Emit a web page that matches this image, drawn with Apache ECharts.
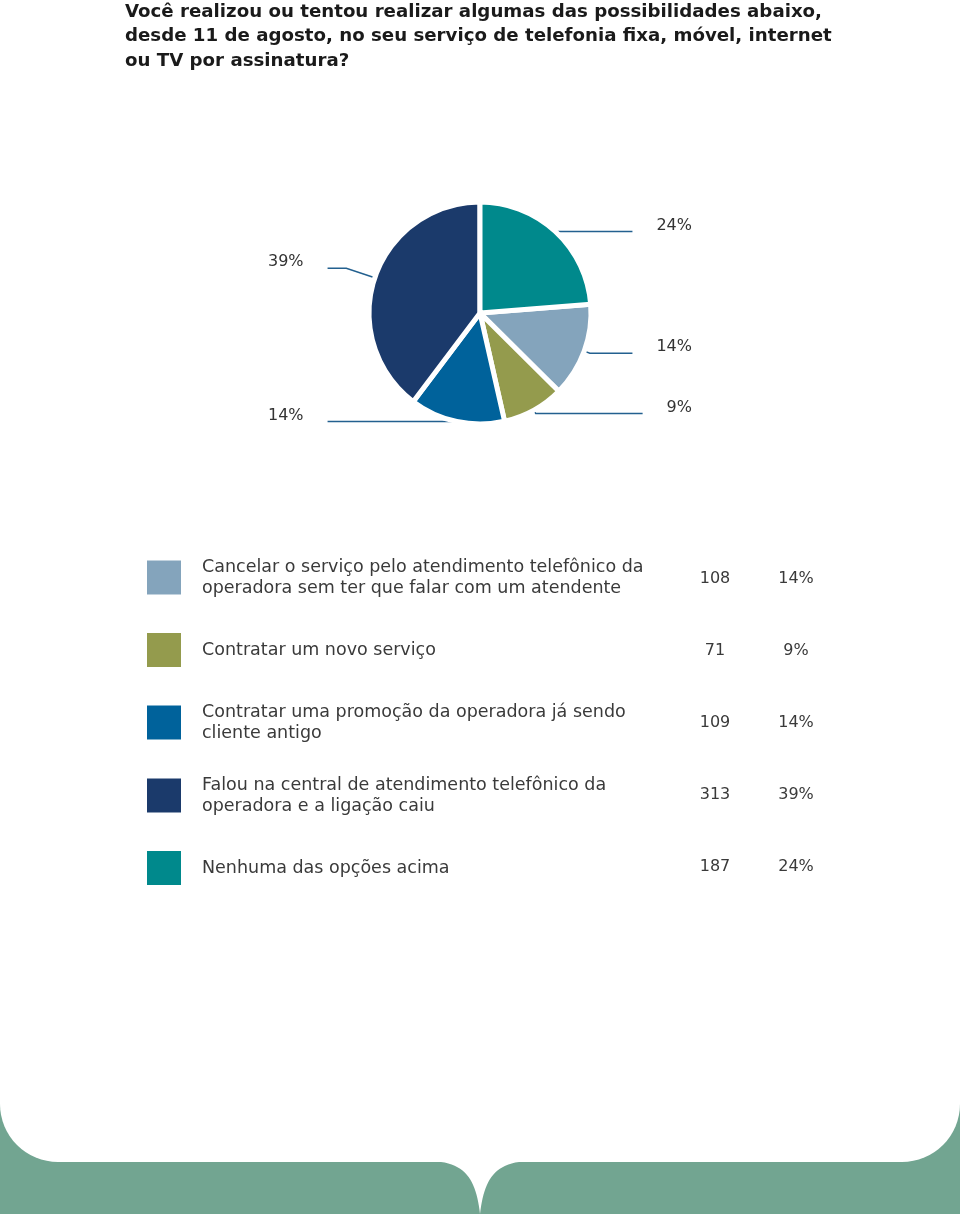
<!DOCTYPE html>
<html>
<head>
<meta charset="utf-8">
<script src="https://cdn.jsdelivr.net/npm/echarts@6/dist/echarts.min.js"></script>
<style>
html,body{margin:0;padding:0;background:#fff;}
#chart{width:960px;height:1214px;}
</style>
</head>
<body>
<div id="chart"></div>
<script>
// ---- data ----
var titleLines = [
  'Você realizou ou tentou realizar algumas das possibilidades abaixo,',
  'desde 11 de agosto, no seu serviço de telefonia fixa, móvel, internet',
  'ou TV por assinatura?'
];
var categories = [
  'Cancelar o serviço pelo atendimento telefônico da\noperadora sem ter que falar com um atendente',
  'Contratar um novo serviço',
  'Contratar uma promoção da operadora já sendo\ncliente antigo',
  'Falou na central de atendimento telefônico da\noperadora e a ligação caiu',
  'Nenhuma das opções acima'
];
var counts = [108, 71, 109, 313, 187];
var percents = [14, 9, 14, 39, 24];

// ---- styles (kept apart from the data) ----
var colors = ['#84A4BC', '#949B4D', '#00629B', '#1B3A6B', '#00898C'];
var labelLineLengths = [6, 4, 0, 30, 0];

// ---- build ----
var total = counts.reduce(function (a, b) { return a + b; }, 0);
var lastShare = counts[counts.length - 1] / total * 360;
var startAngle = 90 - lastShare;

var pieData = categories.map(function (c, i) {
  return {
    name: c,
    value: counts[i],
    itemStyle: { color: colors[i] },
    labelLine: { length: labelLineLengths[i] }
  };
});
function idxOf(name) { return categories.indexOf(name); }

// decorative tab under the card (sampled cubic curves)
function cubic(p0, p1, p2, p3, t) {
  var u = 1 - t;
  return [
    u*u*u*p0[0] + 3*u*u*t*p1[0] + 3*u*t*t*p2[0] + t*t*t*p3[0],
    u*u*u*p0[1] + 3*u*u*t*p1[1] + 3*u*t*t*p2[1] + t*t*t*p3[1]
  ];
}
var tabPts = [];
var N = 24, k;
for (k = 0; k <= N; k++) tabPts.push(cubic([428,1161],[466,1161],[476,1180],[480,1214], k/N));
for (k = 1; k <= N; k++) tabPts.push(cubic([480,1214],[484,1180],[494,1161],[532,1161], k/N));

var FONT = '"DejaVu Sans", "Noto Sans", sans-serif';
var TXT = '#3a3a3a';
var chart = echarts.init(document.getElementById('chart'), null, { renderer: 'canvas' });

var option = {
  backgroundColor: '#ffffff',
  animation: false,
  title: {
    text: titleLines.join('\n'),
    left: 125,
    top: 0,
    padding: 0,
    textStyle: {
      fontFamily: FONT,
      fontWeight: 'bold',
      fontSize: 18.2,
      lineHeight: 24.5,
      color: '#1a1a1a'
    }
  },
  legend: [
    {
      orient: 'vertical',
      left: 145,
      top: 558,
      padding: 0,
      itemWidth: 36,
      itemHeight: 36,
      itemGap: 34,
      icon: 'rect',
      selectedMode: false,
      data: categories,
      formatter: function (name) {
        var two = name.indexOf('\n') >= 0;
        return '{' + (two ? 'two' : 'one') + '|' + name + '}';
      },
      textStyle: {
        fontFamily: FONT,
        fontSize: 17.5,
        color: TXT,
        padding: [0, 0, 0, 15],
        rich: {
          one: { fontFamily: FONT, fontSize: 17.5, color: TXT, lineHeight: 42 },
          two: { fontFamily: FONT, fontSize: 17.5, color: TXT, lineHeight: 21 }
        }
      }
    },
    {
      orient: 'vertical',
      left: 680,
      top: 561,
      padding: 0,
      itemWidth: 0,
      itemHeight: 36,
      itemGap: 46,
      icon: 'none',
      selectedMode: false,
      data: categories,
      formatter: function (name) {
        return '{v|' + counts[idxOf(name)] + '}';
      },
      textStyle: {
        rich: {
          v: { fontFamily: FONT, fontSize: 16, color: TXT, lineHeight: 42, width: 60, align: 'center' }
        }
      }
    },
    {
      orient: 'vertical',
      left: 761,
      top: 561,
      padding: 0,
      itemWidth: 0,
      itemHeight: 36,
      itemGap: 46,
      icon: 'none',
      selectedMode: false,
      data: categories,
      formatter: function (name) {
        return '{v|' + percents[idxOf(name)] + '%}';
      },
      textStyle: {
        rich: {
          v: { fontFamily: FONT, fontSize: 16, color: TXT, lineHeight: 42, width: 60, align: 'center' }
        }
      }
    }
  ],
  graphic: [
    {
      type: 'rect',
      z: -10,
      silent: true,
      shape: { x: 0, y: 1060, width: 960, height: 154 },
      style: { fill: '#72A591' }
    },
    {
      type: 'rect',
      z: -9,
      silent: true,
      shape: { x: 0, y: 1000, width: 960, height: 162, r: [0, 0, 58, 58] },
      style: { fill: '#ffffff' }
    },
    {
      type: 'polygon',
      z: -9,
      silent: true,
      shape: { points: tabPts },
      style: { fill: '#ffffff' }
    }
  ],
  series: [
    {
      type: 'pie',
      center: [480, 313],
      radius: 111,
      startAngle: startAngle,
      clockwise: true,
      avoidLabelOverlap: true,
      data: pieData,
      itemStyle: { borderColor: '#ffffff', borderWidth: 5 },
      label: {
        show: true,
        position: 'outside',
        alignTo: 'edge',
        edgeDistance: 268,
        distanceToLabelLine: 24,
        overflow: 'none',
        formatter: function (p) { return '{p|' + percents[p.dataIndex] + '%}'; },
        rich: {
          p: { fontFamily: FONT, fontSize: 16, color: '#333333', padding: [0, 0, 12, 0] }
        }
      },
      labelLine: {
        show: true,
        length: 6,
        length2: 30,
        lineStyle: { color: '#23608F', width: 1.5 }
      },
      emphasis: { disabled: true }
    }
  ]
};
chart.setOption(option);
</script>
</body>
</html>
